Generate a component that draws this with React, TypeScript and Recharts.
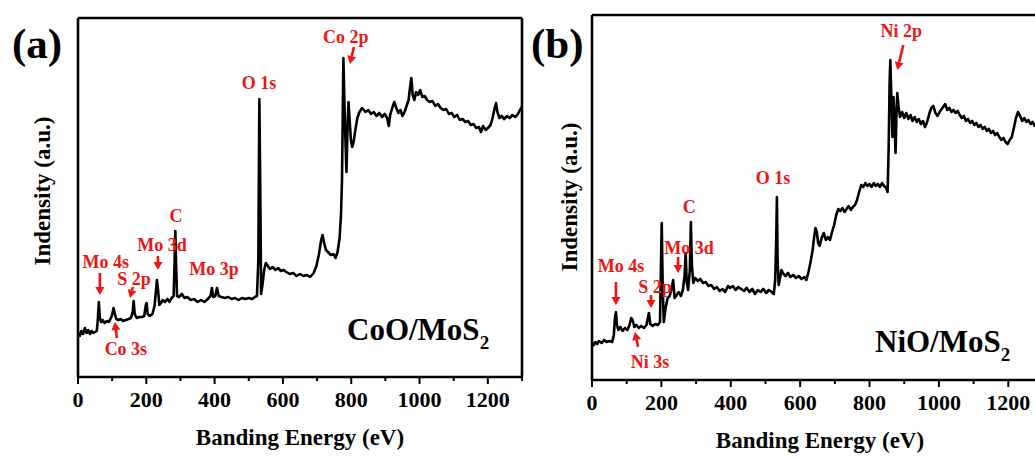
import React from 'react';
import { LineChart, Line, XAxis, YAxis, ReferenceDot } from 'recharts';

const FONT = '"Liberation Serif", "Times New Roman", serif';
const RED = '#f01414';

// XPS survey, CoO/MoS2: [binding energy (eV), intensity (a.u.)]
const coSurvey: [number, number][] = [
  [0, 44], [5, 41], [10, 46], [15, 43], [20, 49], [25, 44], [30, 47], [35, 43], [40, 46], [45, 44],
  [50, 45], [55, 46], [58, 57], [61, 75], [64, 59], [68, 55], [72, 57], [78, 54], [85, 56], [90, 55],
  [95, 58], [100, 62], [104, 69], [108, 63], [112, 58], [118, 57], [125, 58], [132, 56], [140, 57], [148, 58],
  [155, 59], [160, 65], [163, 76], [166, 63], [172, 59], [180, 60], [188, 60], [194, 61], [198, 71], [201, 74],
  [204, 63], [210, 61], [218, 63], [224, 71], [228, 85], [231, 97], [235, 85], [238, 72], [243, 74], [248, 77],
  [255, 75], [262, 78], [268, 75], [274, 79], [280, 81], [283, 117], [285, 146], [287, 115], [290, 81], [296, 80],
  [304, 83], [312, 79], [320, 80], [330, 77], [340, 78], [350, 75], [360, 77], [370, 75], [380, 78], [388, 81],
  [392, 89], [396, 80], [402, 81], [407, 89], [412, 81], [420, 80], [430, 79], [440, 80], [450, 78], [460, 79],
  [470, 77], [480, 79], [490, 78], [500, 79], [510, 78], [518, 80], [524, 81], [528, 117], [531, 278], [534, 177],
  [536, 83], [540, 92], [545, 107], [550, 114], [556, 111], [562, 108], [570, 110], [578, 107], [586, 109], [594, 106],
  [602, 107], [610, 105], [620, 103], [630, 104], [640, 101], [650, 103], [660, 101], [670, 102], [680, 100], [690, 104],
  [698, 111], [705, 122], [712, 137], [716, 142], [720, 135], [726, 127], [732, 125], [740, 122], [748, 123], [754, 119],
  [760, 125], [766, 139], [770, 162], [773, 197], [775, 257], [777, 319], [780, 277], [783, 237], [786, 205], [789, 247],
  [792, 275], [795, 259], [799, 237], [803, 230], [807, 235], [812, 247], [818, 259], [824, 265], [832, 269], [842, 265],
  [850, 267], [858, 263], [866, 265], [874, 261], [882, 264], [890, 260], [898, 263], [905, 259], [910, 251], [914, 262],
  [920, 269], [926, 275], [932, 269], [938, 264], [944, 267], [950, 261], [956, 265], [962, 271], [968, 277], [972, 289],
  [976, 299], [980, 282], [985, 277], [990, 285], [996, 282], [1002, 287], [1008, 280], [1015, 281], [1022, 277], [1030, 275],
  [1038, 276], [1046, 271], [1054, 273], [1062, 269], [1070, 267], [1078, 268], [1086, 263], [1094, 264], [1102, 260], [1110, 262],
  [1118, 257], [1126, 258], [1134, 255], [1142, 256], [1150, 252], [1158, 253], [1166, 249], [1174, 250], [1180, 245], [1186, 251],
  [1194, 247], [1200, 249], [1208, 252], [1214, 259], [1220, 269], [1224, 274], [1228, 265], [1234, 259], [1240, 261], [1248, 258],
  [1256, 261], [1264, 259], [1272, 262], [1280, 260], [1288, 263], [1294, 267], [1300, 270],
];

// XPS survey, NiO/MoS2
const niSurvey: [number, number][] = [
  [0, 37], [5, 35], [10, 38], [15, 36], [20, 39], [28, 37], [35, 40], [42, 38], [50, 39], [58, 38],
  [63, 45], [66, 62], [69, 68], [72, 55], [76, 50], [82, 53], [88, 49], [95, 52], [102, 50], [108, 55],
  [113, 62], [117, 60], [122, 53], [128, 55], [135, 52], [142, 54], [150, 52], [157, 55], [161, 62], [164, 67],
  [168, 56], [175, 54], [182, 56], [190, 55], [196, 58], [199, 120], [201, 157], [204, 90], [207, 58], [212, 72],
  [218, 82], [224, 84], [230, 92], [234, 100], [238, 82], [244, 85], [250, 88], [256, 84], [262, 90], [267, 105],
  [270, 127], [273, 98], [277, 90], [282, 110], [285, 158], [288, 115], [292, 97], [298, 102], [305, 99], [312, 101],
  [320, 97], [328, 98], [336, 94], [344, 95], [352, 91], [360, 93], [368, 89], [376, 91], [384, 88], [392, 94],
  [398, 92], [406, 94], [414, 90], [422, 93], [430, 91], [438, 89], [446, 92], [454, 88], [462, 91], [470, 86],
  [478, 90], [486, 88], [494, 91], [502, 87], [510, 90], [518, 88], [524, 86], [528, 100], [531, 140], [533, 183],
  [535, 120], [538, 95], [542, 102], [546, 110], [552, 106], [558, 104], [565, 107], [572, 103], [580, 105], [588, 102],
  [596, 104], [604, 101], [612, 103], [618, 100], [624, 108], [630, 118], [636, 130], [640, 142], [644, 152], [648, 148],
  [652, 137], [656, 134], [662, 142], [668, 147], [674, 140], [680, 143], [686, 140], [692, 148], [698, 155], [704, 165],
  [710, 171], [716, 169], [722, 172], [728, 168], [734, 171], [740, 174], [746, 170], [752, 173], [758, 175], [764, 180],
  [770, 188], [776, 195], [782, 193], [788, 197], [794, 194], [800, 196], [806, 193], [812, 197], [818, 194], [824, 196],
  [830, 193], [836, 197], [842, 194], [848, 192], [852, 188], [855, 230], [858, 300], [860, 320], [863, 280], [866, 243],
  [869, 283], [872, 260], [875, 227], [878, 270], [880, 287], [884, 272], [888, 263], [894, 268], [900, 262], [906, 267],
  [912, 261], [918, 265], [924, 259], [930, 263], [936, 258], [942, 261], [948, 256], [954, 259], [960, 253], [966, 258],
  [972, 266], [978, 272], [984, 274], [990, 267], [996, 264], [1002, 268], [1008, 271], [1014, 274], [1018, 276], [1024, 270],
  [1030, 272], [1036, 268], [1042, 270], [1048, 267], [1054, 269], [1060, 265], [1066, 262], [1072, 264], [1078, 259], [1084, 261],
  [1090, 257], [1096, 259], [1102, 255], [1108, 257], [1114, 253], [1120, 255], [1126, 251], [1132, 253], [1138, 249], [1144, 251],
  [1150, 247], [1156, 249], [1162, 245], [1168, 247], [1174, 243], [1180, 240], [1186, 242], [1192, 238], [1198, 236], [1204, 240],
  [1210, 243], [1216, 252], [1222, 262], [1228, 268], [1234, 264], [1240, 259], [1246, 262], [1252, 258], [1258, 260], [1264, 256],
  [1270, 258], [1276, 254], [1282, 256], [1288, 253], [1294, 255], [1300, 252],
];

const energyTicks = [0, 100, 200, 300, 400, 500, 600, 700, 800, 900, 1000, 1100, 1200, 1300];

type Peak = { label: string; e: number; at: number; arrow: 'down' | 'up' | 'none' };

const coPeaks: Peak[] = [
  { label: 'Mo 4s', e: 64, at: 82, arrow: 'down' },
  { label: 'Co 3s', e: 108, at: 55, arrow: 'up' },
  { label: 'S 2p', e: 152, at: 79, arrow: 'down' },
  { label: 'Mo 3d', e: 234, at: 107, arrow: 'down' },
  { label: 'C', e: 287, at: 155, arrow: 'none' },
  { label: 'Mo 3p', e: 398, at: 102, arrow: 'none' },
  { label: 'O 1s', e: 530, at: 288, arrow: 'none' },
  { label: 'Co 2p', e: 796, at: 313, arrow: 'down' },
];

const niPeaks: Peak[] = [
  { label: 'Mo 4s', e: 69, at: 75, arrow: 'down' },
  { label: 'Ni 3s', e: 124, at: 48, arrow: 'up' },
  { label: 'S 2p', e: 170, at: 72, arrow: 'down' },
  { label: 'Mo 3d', e: 248, at: 107, arrow: 'down' },
  { label: 'C', e: 280, at: 167, arrow: 'none' },
  { label: 'O 1s', e: 522, at: 196, arrow: 'none' },
  { label: 'Ni 2p', e: 880, at: 310, arrow: 'down' },
];

// arrow length / tilt and label offset (px)
type Look = { len: number; tilt: number; dx: number; gap: number };
const coLook: Record<string, Look> = {
  'Mo 4s': { len: 22, tilt: 0, dx: 6, gap: 5 },
  'Co 3s': { len: 16, tilt: 2, dx: 11, gap: 17 },
  'S 2p': { len: 11, tilt: 3, dx: 4, gap: 2 },
  'Mo 3d': { len: 14, tilt: 0, dx: 4, gap: 5 },
  'Co 2p': { len: 17, tilt: 4, dx: -4, gap: 4 },
};
const niLook: Record<string, Look> = {
  'Mo 4s': { len: 23, tilt: 0, dx: 5, gap: 10 },
  'Ni 3s': { len: 15, tilt: 3, dx: 15, gap: 21 },
  'S 2p': { len: 13, tilt: 0, dx: 4, gap: 2 },
  'Mo 3d': { len: 16, tilt: 0, dx: 11, gap: 3 },
  'Ni 2p': { len: 25, tilt: 6, dx: 4, gap: 8 },
};

function calloutShape(peak: Peak, look?: Look) {
  return (props: any) => {
    const { cx, cy } = props;
    const txt = (x: number, y: number) => (
      <text x={x} y={y} textAnchor="middle" fill={RED} fontSize={18} fontWeight="bold" fontFamily={FONT}>
        {peak.label}
      </text>
    );
    if (peak.arrow === 'none' || !look) return <g>{txt(cx, cy)}</g>;
    const sign = peak.arrow === 'down' ? -1 : 1;
    const tx = cx + look.tilt;
    const ty = cy + sign * look.len;
    const d = Math.hypot(cx - tx, cy - ty);
    const ux = (cx - tx) / d;
    const uy = (cy - ty) / d;
    const bx = cx - ux * 8;
    const by = cy - uy * 8;
    const head = `${cx},${cy} ${bx - uy * 4.5},${by + ux * 4.5} ${bx + uy * 4.5},${by - ux * 4.5}`;
    const labelY = peak.arrow === 'down' ? ty - look.gap : ty + look.gap;
    return (
      <g>
        <line x1={tx} y1={ty} x2={bx} y2={by} stroke={RED} strokeWidth={2.6} />
        <polygon points={head} fill={RED} />
        {txt(cx + look.dx, labelY)}
      </g>
    );
  };
}

const EnergyTick = (props: any) => {
  const { x, y, payload } = props;
  const major = payload.value % 200 === 0;
  return (
    <g>
      <line x1={x} x2={x} y1={y} y2={y + (major ? 7 : 4)} stroke="#000" strokeWidth={2} />
      {major && payload.value <= 1200 && (
        <text x={x} y={y + 30} textAnchor="middle" fill="#000" fontSize={22} fontWeight="bold" fontFamily={FONT}>
          {payload.value}
        </text>
      )}
    </g>
  );
};

function SurveyPanel(p: {
  points: [number, number][];
  peaks: Peak[];
  look: Record<string, Look>;
  yMax: number;
  left: number;
  box: { top: number; right: number; bottom: number; left: number };
}) {
  const data = p.points.map(([e, v]) => ({ e, v }));
  const axis = { stroke: '#000', strokeWidth: 2.6 };
  // axes get a small footprint so recharts still draws them; margins absorb it
  const margin = { top: p.box.top - 1, right: p.box.right - 1, bottom: p.box.bottom - 40, left: p.box.left - 1 };
  return (
    <div style={{ position: 'absolute', left: p.left, top: 0 }}>
      <LineChart width={540} height={457} data={data} margin={margin}>
        <XAxis
          dataKey="e"
          type="number"
          domain={[0, 1300]}
          ticks={energyTicks}
          interval={0}
          height={40}
          tickSize={0}
          tickMargin={0}
          tickLine={false}
          axisLine={axis}
          tick={<EnergyTick />}
          allowDataOverflow
        />
        <XAxis xAxisId="top" orientation="top" type="number" domain={[0, 1300]} height={1} tick={false} tickLine={false} axisLine={axis} />
        <YAxis type="number" domain={[0, p.yMax]} width={1} tick={false} tickLine={false} axisLine={axis} allowDataOverflow />
        <YAxis yAxisId="right" orientation="right" type="number" domain={[0, p.yMax]} width={1} tick={false} tickLine={false} axisLine={axis} />
        <Line type="linear" dataKey="v" stroke="#000" strokeWidth={2.6} strokeLinejoin="round" dot={false} isAnimationActive={false} />
        {p.peaks.map((pk) => (
          <ReferenceDot key={pk.label} x={pk.e} y={pk.at} r={0} shape={calloutShape(pk, p.look[pk.label])} />
        ))}
      </LineChart>
    </div>
  );
}

export default function App() {
  const bold = { fontFamily: FONT, fontWeight: 'bold' as const, fill: '#000' };
  return (
    <div style={{ position: 'absolute', left: 0, top: 0, width: 1035, height: 457, overflow: 'hidden', background: '#fff' }}>
      <SurveyPanel points={coSurvey} peaks={coPeaks} look={coLook} yMax={359} left={0} box={{ top: 18, right: 18, bottom: 80, left: 78 }} />
      <SurveyPanel points={niSurvey} peaks={niPeaks} look={niLook} yMax={365} left={520} box={{ top: 15, right: 17, bottom: 77, left: 72 }} />
      <svg width={1035} height={457} style={{ position: 'absolute', left: 0, top: 0, pointerEvents: 'none' }}>
        <text x={12} y={58} fontSize={43} {...bold}>(a)</text>
        <text x={531} y={58} fontSize={43} {...bold}>(b)</text>
        <text transform="translate(50,191) rotate(-90)" textAnchor="middle" fontSize={23} {...bold}>Indensity (a.u.)</text>
        <text transform="translate(577,197) rotate(-90)" textAnchor="middle" fontSize={23} {...bold}>Indensity (a.u.)</text>
        <text x={300} y={445} textAnchor="middle" fontSize={23} {...bold}>Banding Energy (eV)</text>
        <text x={820} y={448} textAnchor="middle" fontSize={23} {...bold}>Banding Energy (eV)</text>
        <text x={347} y={340} fontSize={31} {...bold}>
          CoO/MoS<tspan fontSize={19} dy={9}>2</tspan>
        </text>
        <text x={875} y={352} fontSize={31} {...bold}>
          NiO/MoS<tspan fontSize={19} dy={9}>2</tspan>
        </text>
      </svg>
    </div>
  );
}
